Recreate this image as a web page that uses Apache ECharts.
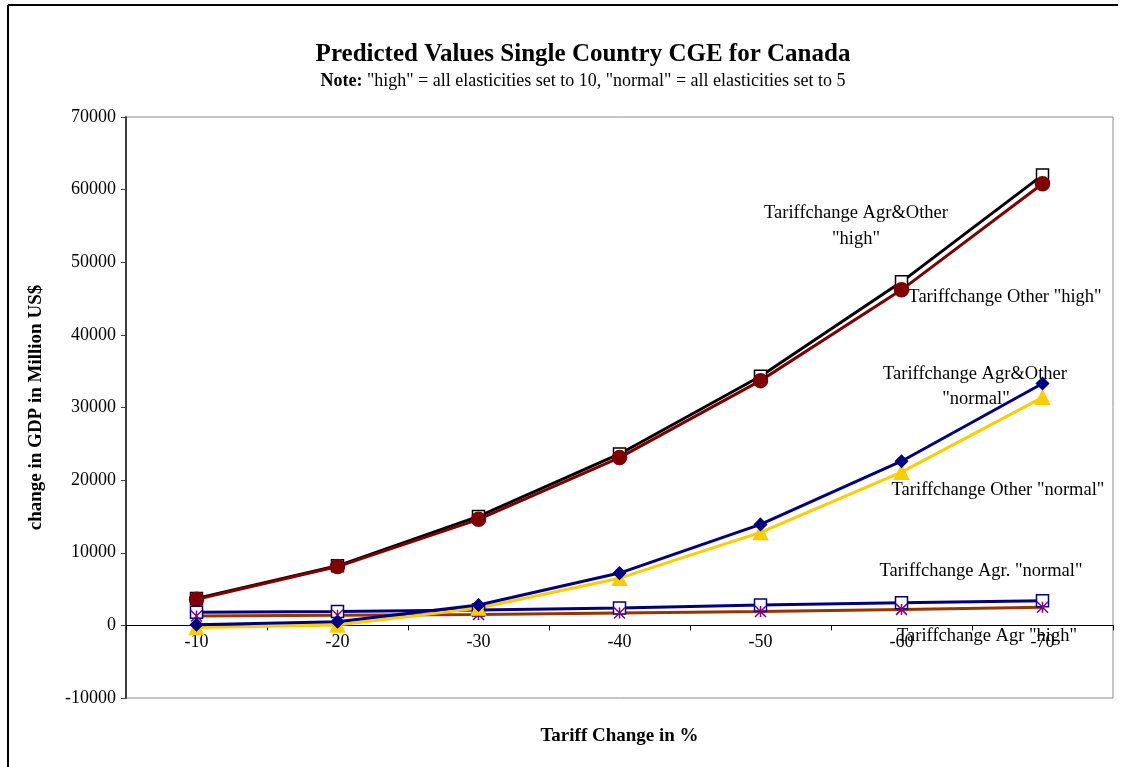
<!DOCTYPE html>
<html lang="en">
<head>
<meta charset="UTF-8">
<title>Predicted Values Single Country CGE for Canada</title>
<script src="https://cdn.jsdelivr.net/npm/echarts@6/dist/echarts.min.js"></script>
<style>
  html, body { margin: 0; padding: 0; background: #ffffff; }
  #chart { width: 1127px; height: 767px; }
</style>
</head>
<body>
<div id="chart"></div>
<script>
// tariff change steps (x axis)
const categories = ['-10', '-20', '-30', '-40', '-50', '-60', '-70'];

// change in GDP, million US$
const agrOtherHigh   = [3700, 8200, 15000, 23600, 34300, 47300, 62000];
const otherHigh      = [3600, 8100, 14600, 23100, 33700, 46200, 60800];
const agrOtherNormal = [100, 500, 2800, 7200, 13900, 22600, 33300];
const otherNormal    = [-300, 50, 2400, 6500, 12800, 21100, 31400];
const agrNormal      = [1800, 1900, 2100, 2400, 2800, 3100, 3400];
const agrHigh        = [1300, 1400, 1500, 1700, 1900, 2200, 2500];

const yTicks = { min: -10000, max: 70000, step: 10000 };

const serif = "'Liberation Serif', 'Times New Roman', serif";
const asterisk = 'path://M0,0L20,20M0,20L20,0M10,0L10,20';

const chart = echarts.init(document.getElementById('chart'));

function lineSeries(name, data, lineColor, symbol, symbolSize, markColor, fill) {
    return {
        name: name,
        type: 'line',
        data: data,
        symbol: symbol,
        symbolSize: symbolSize,
        lineStyle: { color: lineColor, width: 3 },
        itemStyle: {
            color: fill || markColor,
            borderColor: markColor,
            borderWidth: 1.5
        },
        emphasis: { disabled: true },
        animation: false
    };
}

// annotation labels placed beside the lines
const notes = [
    { text: 'Tariffchange Agr&Other', x: 856, y: 213 },
    { text: '"high"', x: 856, y: 239 },
    { text: 'Tariffchange Other "high"', x: 1005, y: 297 },
    { text: 'Tariffchange Agr&Other', x: 975, y: 374 },
    { text: '"normal"', x: 976, y: 399 },
    { text: 'Tariffchange Other "normal"', x: 998, y: 490 },
    { text: 'Tariffchange Agr. "normal"', x: 981, y: 571 },
    { text: 'Tariffchange Agr "high"', x: 987, y: 636 }
];

const option = {
    backgroundColor: '#ffffff',
    animation: false,
    title: {
        text: 'Predicted Values Single Country CGE for Canada',
        subtext: '{b|Note:} "high" = all elasticities set to 10, "normal" = all elasticities set to 5',
        left: 578,
        textAlign: 'center',
        top: 37,
        itemGap: 5,
        textStyle: { fontFamily: serif, fontSize: 25, fontWeight: 'bold', color: '#000' },
        subtextStyle: {
            fontFamily: serif, fontSize: 18, color: '#000',
            rich: { b: { fontFamily: serif, fontSize: 18, fontWeight: 'bold', color: '#000' } }
        }
    },
    grid: {
        left: 126, right: 14, top: 117, bottom: 69,
        outerBoundsMode: 'none',
        show: true, borderColor: '#8c8c8c', borderWidth: 1
    },
    xAxis: {
        type: 'category',
        data: categories,
        boundaryGap: true,
        name: 'Tariff Change in %',
        nameLocation: 'middle',
        nameGap: 29,
        nameTextStyle: { fontFamily: serif, fontSize: 19, fontWeight: 'bold', color: '#000' },
        axisLine: { onZero: true, lineStyle: { color: '#000', width: 1 } },
        axisTick: { show: true, alignWithLabel: false, length: 5, lineStyle: { color: '#000' } },
        axisLabel: { fontFamily: serif, fontSize: 18, color: '#000', margin: -65 },
        splitLine: { show: false }
    },
    yAxis: {
        type: 'value',
        min: yTicks.min,
        max: yTicks.max,
        interval: yTicks.step,
        name: 'change in GDP in Million US$',
        nameLocation: 'middle',
        nameGap: 80,
        nameRotate: 90,
        nameTextStyle: { fontFamily: serif, fontSize: 19, fontWeight: 'bold', color: '#000' },
        axisLine: { show: true, onZero: false, lineStyle: { color: '#404040', width: 2 } },
        axisTick: { show: true, inside: false, length: 5, lineStyle: { color: '#404040' } },
        axisLabel: { fontFamily: serif, fontSize: 18, color: '#000', margin: 10, formatter: v => String(v) },
        splitLine: { show: false }
    },
    series: [
        lineSeries('Tariffchange Agr&Other "high"', agrOtherHigh, '#000000', 'rect', 12, '#000000', '#ffffff'),
        lineSeries('Tariffchange Other "high"', otherHigh, '#800000', 'circle', 14, '#800000'),
        lineSeries('Tariffchange Agr. "normal"', agrNormal, '#000080', 'rect', 12, '#000080', '#ffffff'),
        lineSeries('Tariffchange Agr "high"', agrHigh, '#993300', asterisk, 11, '#800080'),
        lineSeries('Tariffchange Other "normal"', otherNormal, '#ffcc00', 'triangle', 14, '#ffcc00'),
        lineSeries('Tariffchange Agr&Other "normal"', agrOtherNormal, '#000080', 'diamond', 12, '#000080')
    ],
    graphic: [
        // outer frame (top and left edges visible)
        { type: 'line', shape: { x1: 8, y1: 5, x2: 1118, y2: 5 }, style: { stroke: '#000', lineWidth: 2 } },
        { type: 'line', shape: { x1: 8, y1: 5, x2: 8, y2: 767 }, style: { stroke: '#000', lineWidth: 2 } }
    ].concat(notes.map(n => ({
        type: 'text',
        x: n.x,
        y: n.y,
        style: {
            text: n.text,
            fontFamily: serif,
            fontSize: 18.5,
            fill: '#000',
            textAlign: 'center',
            textVerticalAlign: 'middle'
        }
    })))
};

chart.setOption(option);
</script>
</body>
</html>
